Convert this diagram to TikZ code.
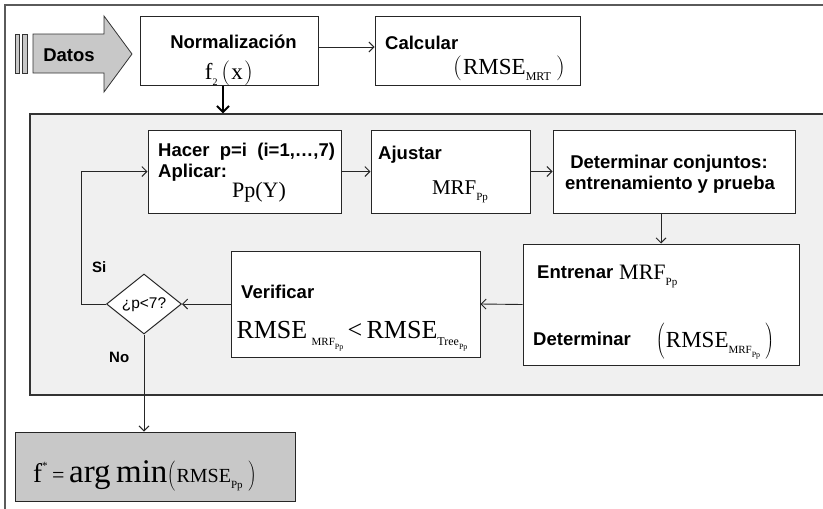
\documentclass[tikz,border=0pt]{standalone}
\usepackage{fontspec}
\setmainfont{Liberation Serif}
\setsansfont{Liberation Sans}
\usetikzlibrary{arrows.meta,shapes.geometric}

\definecolor{panelgray}{HTML}{F0F0F0}
\definecolor{boxgray}{HTML}{C8C8C8}
\definecolor{framegray}{HTML}{5A5A5A}

% font size shortcut
\newcommand\fs[1]{\fontsize{#1}{#1}\selectfont}
% lowered subscript in a given size
\newcommand\lowtxt[2]{\raisebox{-0.3em}{\fs{#1}#2}}
% tall thin parentheses of a given height
\newcommand\lp[1]{\ensuremath{\left(\vcenter{\hbox{\rule{0pt}{#1}}}\right.}}
\newcommand\rp[1]{\ensuremath{\left.\vcenter{\hbox{\rule{0pt}{#1}}}\right)}}

\begin{document}
\begin{tikzpicture}[x=1pt,y=-1pt]
\tikzset{
  flowbox/.style n args={2}{draw=black!85, line width=1pt, fill=white, inner sep=0pt,
    minimum width=#1pt, minimum height=#2pt},
  sanslbl/.style={font=\sffamily\bfseries\fs{18.5}, inner sep=0pt},
  frm/.style={inner sep=0pt},
  conn/.style={-{Straight Barb[length=5pt,width=10pt]}, line width=0.9pt, draw=black!85},
  thickconn/.style={-{Straight Barb[length=6pt,width=12pt,line width=2pt]}, line width=2.2pt, draw=black},
}
\useasboundingbox (0,0) rectangle (823,509);
\clip (0,0) rectangle (823,509);

% outer frame
\draw[framegray, line width=1.3pt] (5,520) -- (5,5) -- (830,5);

% input arrow "Datos"
\draw[black!80, fill=boxgray, line width=0.8pt] (15,34) rectangle (19,73);
\draw[black!80, fill=boxgray, line width=0.8pt] (22,34) rectangle (27,73);
\draw[black!80, fill=boxgray, line width=0.8pt]
  (33,34) -- (104,34) -- (104,16) -- (132,54) -- (104,92) -- (104,73) -- (33,73) -- cycle;
\node[sanslbl, anchor=base] (tdatos) at (69,61) {Datos};

% top row
\node[flowbox={178}{69}] (norm) at (229,50.5) {};
\node[flowbox={205}{69}] (calc) at (477.5,50.5) {};
\node[sanslbl, anchor=base] (tnorm) at (233.5,48) {Normalización};
\node[frm, anchor=base] (fnorm) at (229,79) {\fs{23}f\lowtxt{10}{2}\,\lp{21pt}x\rp{21pt}};
\node[sanslbl, anchor=base west] (tcalc) at (385,49) {Calcular};
\node[frm, anchor=base] (fcalc) at (509,74) {\fs{23}\lp{27pt}RMSE\lowtxt{12}{MRT}\,\rp{27pt}};

% loop panel
\node[draw=black!80, line width=1.2pt, fill=panelgray, inner sep=0pt,
  minimum width=800pt, minimum height=281pt] (panel) at (430,254.5) {};

% loop boxes
\node[flowbox={193}{83}] (hacer) at (244.5,171.5) {};
\node[flowbox={159}{83}] (ajus) at (450.5,171.5) {};
\node[flowbox={242}{83}] (detc) at (674,171.5) {};
\node[flowbox={276}{121}] (entr) at (661,304.5) {};
\node[flowbox={249}{106}] (verif) at (355.5,304) {};
\node[diamond, draw=black!85, line width=1pt, fill=white, inner sep=0pt,
  minimum width=75pt, minimum height=60pt] (dia) at (144,304) {};

\node[sanslbl, anchor=base west] (thacer) at (158,156) {Hacer\ \ p=i\ \ (i=1,…,7)};
\node[sanslbl, anchor=base west] (taplic) at (158,177) {Aplicar:};
\node[frm, anchor=base] (fpp) at (259,197) {\fs{22}Pp(Y)};

\node[sanslbl, anchor=base west] (tajus) at (378,159) {Ajustar};
\node[frm, anchor=base] (fmrf) at (460,194) {\fs{21}MRF\lowtxt{11}{Pp}};

\node[sanslbl, anchor=base] (tdet1) at (669,168) {Determinar conjuntos:};
\node[sanslbl, anchor=base] (tdet2) at (670,189) {entrenamiento y prueba};

\node[sanslbl, anchor=base west] (tentr) at (537,278) {Entrenar};
\node[frm, anchor=base west] (fentr) at (619,279) {\fs{22}MRF\lowtxt{11}{Pp}};
\node[sanslbl, anchor=base west] (tdet3) at (533,345) {Determinar};
\node[frm, anchor=base] (fdet) at (715,347)
  {\fs{23}\lp{34pt}RMSE\lowtxt{11}{MRF\lowtxt{8}{Pp}}\,\rp{34pt}};

\node[sanslbl, anchor=base west] (tverif) at (241,298) {Verificar};
\node[frm, anchor=base] (fverif) at (352,338)
  {\fs{26}RMSE\,\lowtxt{11}{MRF\lowtxt{8}{Pp}}\,<\,RMSE\lowtxt{12}{Tree\lowtxt{8}{Pp}}};

\node[font=\sffamily\fs{15.5}, inner sep=0pt] (tdia) at (144,305) {¿p<7?};
\node[sanslbl, font=\sffamily\bfseries\fs{15}, anchor=base west] (tsi) at (92,272) {Si};
\node[sanslbl, font=\sffamily\bfseries\fs{15}, anchor=base west] (tno) at (109,362) {No};

% result
\node[flowbox={280}{69}, fill=boxgray] (final) at (155,466.5) {};
\node[frm, anchor=base west] (ffinal) at (33,482)
  {\fs{27}f\raisebox{0.45em}{\fs{11}*}\,{\fs{22}=}\,{\fs{33}arg\,min}\lp{30pt}{\fs{20}RMSE\lowtxt{11}{Pp}}\,\rp{30pt}};

% connectors
\draw[conn] ([yshift=3.5pt]norm.east) -- ([yshift=3.5pt]calc.west);
\draw[thickconn] ([xshift=-6pt]norm.south) -- ([xshift=-6pt]norm.south |- panel.north);
\draw[conn] (hacer.east) -- (ajus.west);
\draw[conn] (ajus.east) -- (detc.west);
\draw[conn] (entr.north |- detc.south) -- (entr.north);
\draw[conn] (entr.west) -- (verif.east);
\draw[conn] (verif.west) -- (dia.east);
\draw[conn] (dia.west) -- ++(-25,0) |- (hacer.west);
\draw[conn] (dia.south) -- (dia.south |- final.north);
\end{tikzpicture}
\end{document}
